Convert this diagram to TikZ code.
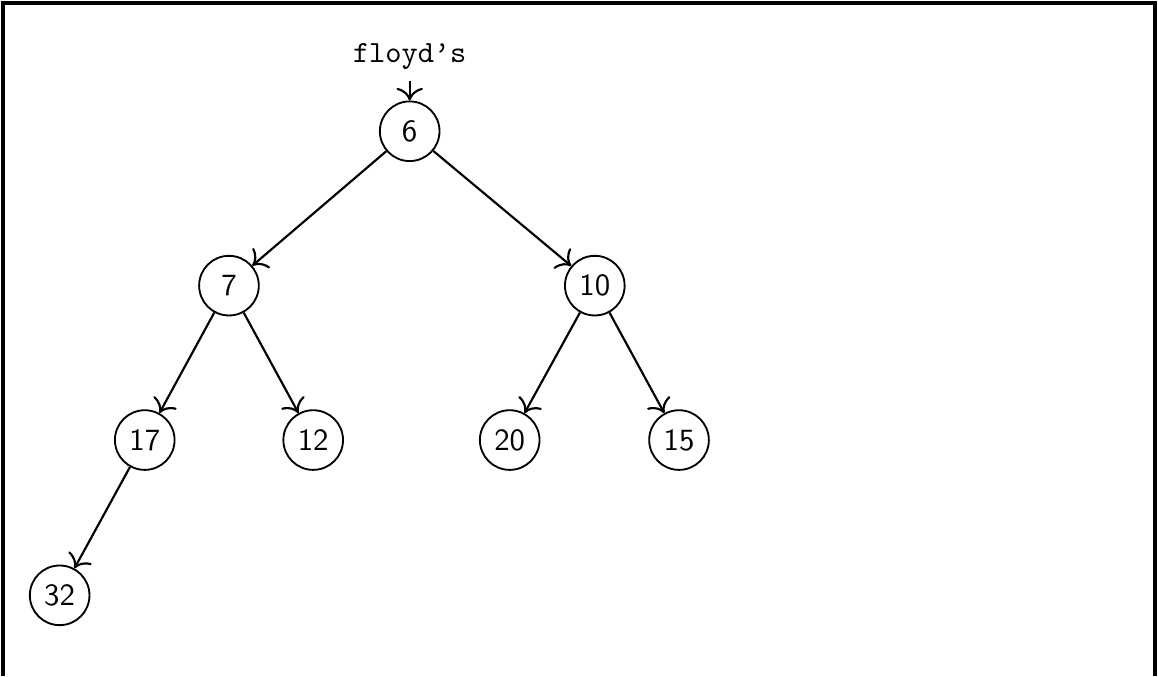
\documentclass[tikz,border=0pt]{standalone}
\usepackage{tikz}
\usetikzlibrary{arrows.meta}

\tikzset{
  heapnode/.style={draw=black,line width=0.6pt,circle,minimum size=0.68cm,inner sep=0pt,font=\sffamily},
  heapedge/.style={-{To[scale=1.3]},line width=0.7pt}
}

\begin{document}
\begin{tikzpicture}
  \useasboundingbox (0,0) rectangle (13.2,7.706);
  % frame (no bottom edge)
  \draw[line width=1pt] (0.034,0) -- (0.034,7.672) -- (13.166,7.672) -- (13.166,0);

  % heap nodes
  \node[heapnode] (n6)  at (4.67,6.21) {6};
  \node[heapnode] (n7)  at (2.61,4.45) {7};
  \node[heapnode] (n10) at (6.78,4.45) {10};
  \node[heapnode] (n17) at (1.65,2.69) {17};
  \node[heapnode] (n12) at (3.57,2.69) {12};
  \node[heapnode] (n20) at (5.81,2.69) {20};
  \node[heapnode] (n15) at (7.74,2.69) {15};
  \node[heapnode] (n32) at (0.68,0.92) {32};

  \node (floyd) at (4.67,7.06) {\texttt{floyd\textquoteright s}};

  \draw[heapedge] (floyd) -- (n6);
  \draw[heapedge] (n6) -- (n7);
  \draw[heapedge] (n6) -- (n10);
  \draw[heapedge] (n7) -- (n17);
  \draw[heapedge] (n7) -- (n12);
  \draw[heapedge] (n10) -- (n20);
  \draw[heapedge] (n10) -- (n15);
  \draw[heapedge] (n17) -- (n32);
\end{tikzpicture}
\end{document}
